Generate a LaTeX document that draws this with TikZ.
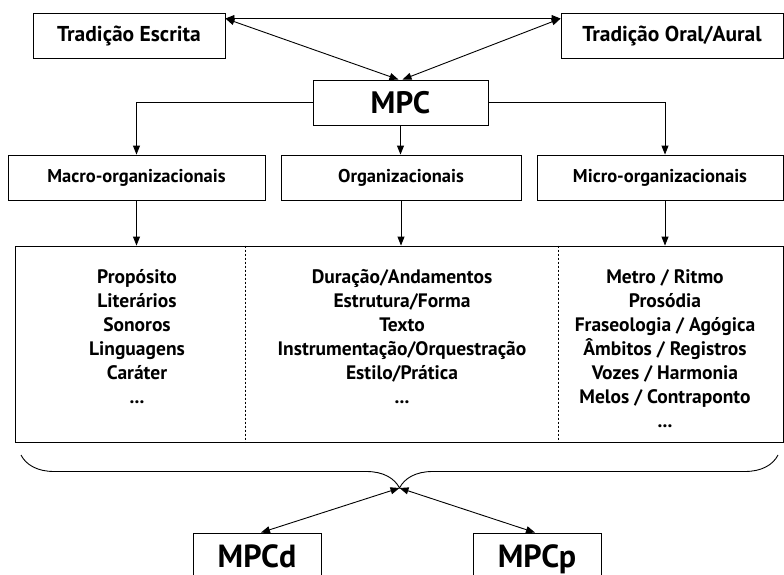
\documentclass[tikz,border=0pt]{standalone}
\usepackage{fontspec}
\setmainfont{PT Sans}
\usetikzlibrary{arrows.meta,decorations.pathreplacing}

\begin{document}
\begin{tikzpicture}[x=1pt,y=-1pt,line width=0.9pt,
    box/.style={draw,rectangle,minimum height=45pt,inner sep=0pt,
      font=\bfseries\fontsize{18.5}{22}\selectfont},
    tradbox/.style={box,font=\bfseries\fontsize{21.5}{25}\selectfont},
    mpcbox/.style={box,font=\bfseries\fontsize{31}{36}\selectfont},
    kindbox/.style={box,minimum width=128pt,minimum height=58pt,text height=23pt,text depth=12pt,
      font=\bfseries\fontsize{32}{36}\selectfont},
    column/.style={anchor=north,align=center,inner sep=0pt,
      font=\bfseries\fontsize{19.5}{24}\selectfont},
    arr/.style={-{Triangle[length=9pt,width=7pt]}},
    darr/.style={{Triangle[length=9pt,width=7pt]}-{Triangle[length=9pt,width=7pt]}}]
  \useasboundingbox (0,0) rectangle (784,575);
  \clip (0,0) rectangle (784,575);
  % traditions and MPC
  \node[tradbox,minimum width=192pt] (escrita) at (129,35.5) {Tradição Escrita};
  \node[tradbox,minimum width=222pt] (oral) at (672,35.5) {Tradição Oral/Aural};
  \node[mpcbox,minimum width=175pt] (mpc) at (400.5,102.5) {MPC};
  \draw[darr] ([yshift=-6pt]escrita.north east) -- ([yshift=-6pt]oral.north west);
  \draw[darr] ([yshift=-6pt]escrita.north east) -- ([xshift=-2pt]mpc.north);
  \draw[darr] ([yshift=-6pt]oral.north west) -- ([xshift=2pt]mpc.north);
  % levels
  \node[box,minimum width=257pt] (macro) at (136.5,177.5) {Macro-organizacionais};
  \node[box,minimum width=240pt] (org) at (401,177.5) {Organizacionais};
  \node[box,minimum width=246pt] (micro) at (660,177.5) {Micro-organizacionais};
  \node[draw,minimum width=768pt,minimum height=196pt,inner sep=0pt] (quadro) at (399,344) {};
  \coordinate (d1) at (245,0);
  \coordinate (d2) at (558,0);
  \draw[dash pattern=on 2pt off 2pt] (d1 |- quadro.north) -- (d1 |- quadro.south);
  \draw[dash pattern=on 2pt off 2pt] (d2 |- quadro.north) -- (d2 |- quadro.south);
  \node[column] (c1) at (137,269) {Propósito\\Literários\\Sonoros\\Linguagens\\Caráter\\...};
  \node[column] (c2) at (402,269) {Duração/Andamentos\\Estrutura/Forma\\Texto\\Instrumentação/Orquestração\\Estilo/Prática\\...};
  \node[column] (c3) at (665,269) {Metro / Ritmo\\Prosódia\\Fraseologia / Agógica\\Âmbitos / Registros\\Vozes / Harmonia\\Melos / Contraponto\\...};
  \draw[arr] (mpc.west) -| (macro.north);
  \draw[arr] (mpc.south) -- (mpc.south |- org.north);
  \draw[arr] (mpc.east) -| (c3 |- micro.north);
  \draw[arr] (macro.south) -- (macro.south |- quadro.north);
  \draw[arr] (org.south) -- (org.south |- quadro.north);
  \draw[arr] (c3 |- micro.south) -- (c3 |- quadro.north);
  % brace and the two MPC kinds
  \coordinate (bl) at (21,455);
  \coordinate (br) at (778,455);
  \coordinate (tip) at (399.5,488);
  \draw[decorate,decoration={brace,mirror,amplitude=33pt}] (bl) -- (br);
  \node[kindbox] (mpcd) at (257,562) {MPCd};
  \node[kindbox] (mpcp) at (537,562) {MPCp};
  \draw[darr] (tip) -- ([xshift=4pt]mpcd.north);
  \draw[darr] (tip) -- ([xshift=-2pt]mpcp.north);
\end{tikzpicture}
\end{document}
